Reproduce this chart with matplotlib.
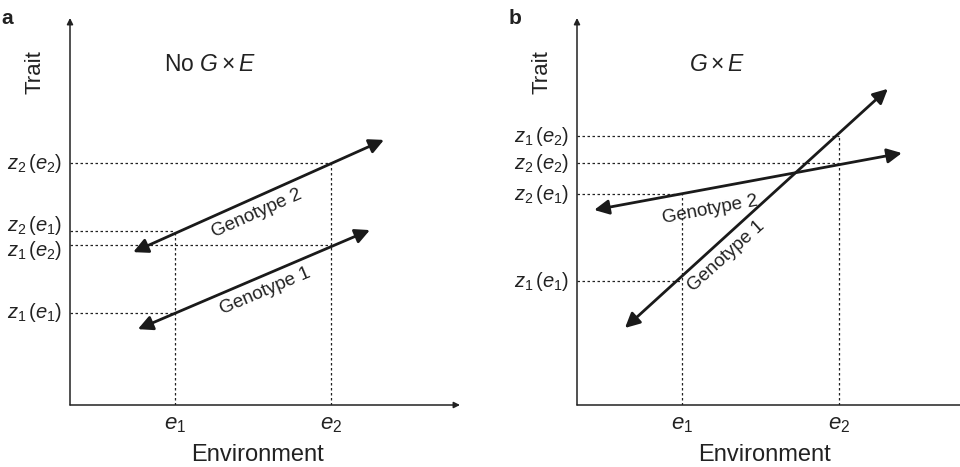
import matplotlib
matplotlib.use("Agg")
import matplotlib.pyplot as plt

plt.rcParams['font.family'] = ['Liberation Sans', 'DejaVu Sans']
plt.rcParams['mathtext.fontset'] = 'custom'
plt.rcParams['mathtext.rm'] = 'Liberation Sans'
plt.rcParams['mathtext.it'] = 'Liberation Sans:italic'

# environments (x, axis units 0-10)
env_a = [2.69, 6.69]
env_b = [2.69, 6.72]
env_labels = [r'$e_1$', r'$e_2$']

# trait values: z_g(e)
z_a = {'z1': [2.38, 4.13], 'z2': [4.50, 6.25]}
z_b = {'z1': [3.20, 6.95], 'z2': [5.45, 6.25]}

# reaction norm arrows, (x0, y0, x1, y1)
arrows_a = {'z1': (1.74, 1.96, 7.69, 4.52), 'z2': (1.62, 3.95, 8.05, 6.85)}
arrows_b = {'z1': (1.23, 1.99, 7.97, 8.17), 'z2': (0.44, 5.04, 8.33, 6.51)}

# genotype labels: x, y, rotation
glabels_a = {'Genotype 1': (5.0, 2.95, 23), 'Genotype 2': (4.8, 4.95, 24)}
glabels_b = {'Genotype 1': (3.83, 3.85, 42), 'Genotype 2': (3.40, 5.05, 10.5)}


def zlab(g, e):
    return r'$z_%s\,(e_%s)$' % (g, e)


def draw_panel(ax, env, z, arrows, glabels, title, letter, xmax=10):
    ax.set_xlim(0, 10)
    ax.set_ylim(0, 10)
    ax.axis('off')
    # axes arrows
    ax.annotate('', xy=(xmax, 0), xytext=(0, 0), annotation_clip=False,
                arrowprops=dict(arrowstyle='-|>', lw=1.1, color='#222222',
                                mutation_scale=9, shrinkA=0, shrinkB=0))
    ax.annotate('', xy=(0, 10), xytext=(0, 0), annotation_clip=False,
                arrowprops=dict(arrowstyle='-|>', lw=1.1, color='#222222',
                                mutation_scale=9, shrinkA=0, shrinkB=0))
    # dotted guides
    for g in ['z1', 'z2']:
        for i in range(2):
            ax.plot([0, env[i]], [z[g][i], z[g][i]], ls=(0, (2, 2)), lw=0.9, color='#222222')
    for i in range(2):
        top = max(z['z1'][i], z['z2'][i])
        ax.plot([env[i], env[i]], [0, top], ls=(0, (2, 2)), lw=0.9, color='#222222')
    # reaction norms
    for g in ['z1', 'z2']:
        x0, y0, x1, y1 = arrows[g]
        ax.annotate('', xy=(x1, y1), xytext=(x0, y0),
                    arrowprops=dict(arrowstyle='<|-|>', lw=2.0, color='#1a1a1a',
                                    mutation_scale=22, shrinkA=0, shrinkB=0))
    for name, (x, y, rot) in glabels.items():
        ax.text(x, y, name, rotation=rot, ha='center', va='center',
                rotation_mode='anchor', fontsize=13.5, color='#222222')
    # tick labels, nudged apart where two values sit close together
    ticks = sorted((z[g][i], g[1], i + 1) for g in ['z1', 'z2'] for i in range(2))
    for k, (val, g, e) in enumerate(ticks):
        dy = 0.0
        if k > 0 and val - ticks[k - 1][0] < 0.5:
            dy = 0.15
        if k < 3 and ticks[k + 1][0] - val < 0.5:
            dy = -0.15
        ax.text(-0.2, val + dy, zlab(g, e), ha='right', va='center',
                fontsize=14.5, color='#222222')
    for i in range(2):
        ax.text(env[i], -0.5, env_labels[i], ha='center', va='center',
                fontsize=16, color='#222222')
    ax.text(4.8, -1.3, 'Environment', ha='center', va='center', fontsize=17, color='#222222')
    ax.text(-0.9, 8.6, 'Trait', rotation=90, ha='center', va='center', fontsize=16, color='#222222')
    ax.text(3.6, 8.81, title, ha='center', va='center', fontsize=16.5, color='#222222')
    ax.text(-1.6, 10.0, letter, ha='center', va='center', fontsize=15,
            fontweight='bold', color='#222222')


fig = plt.figure(figsize=(9.6, 4.67), dpi=100)
W, H = 960.0, 467.0
ax_a = fig.add_axes([70 / W, (467 - 405) / H, 390 / W, 387 / H])
ax_b = fig.add_axes([577 / W, (467 - 405) / H, 390 / W, 387 / H])

draw_panel(ax_a, env_a, z_a, arrows_a, glabels_a, r'No $G\times E$', 'a')
draw_panel(ax_b, env_b, z_b, arrows_b, glabels_b, r'$G\times E$', 'b', xmax=10.4)

fig.savefig('out.png', dpi=100)
